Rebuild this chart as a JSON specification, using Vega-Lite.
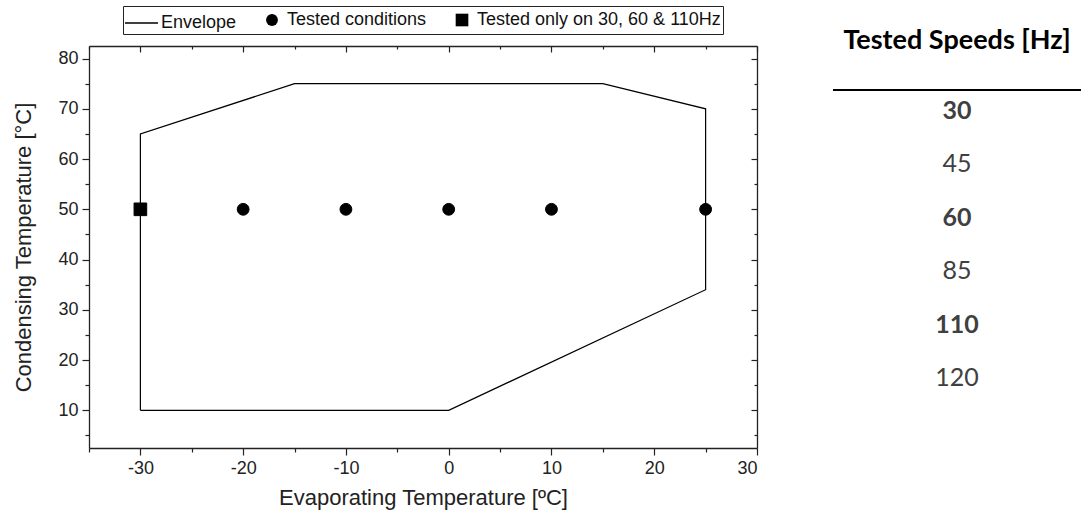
{
  "$schema": "https://vega.github.io/schema/vega-lite/v6.json",
  "padding": {"left": 12, "top": 5, "right": 0, "bottom": 8},
  "bounds": "flush",
  "spacing": 76,
  "config": {"view": {"stroke": null}, "font": "Liberation Sans"},
  "hconcat": [
    {
      "width": 668,
      "height": 402,
      "layer": [
        {
          "data": {"values": [
            {"evap": -30, "cond": 10, "order": 1},
            {"evap": -30, "cond": 65, "order": 2},
            {"evap": -15, "cond": 75, "order": 3},
            {"evap": 15, "cond": 75, "order": 4},
            {"evap": 25, "cond": 70, "order": 5},
            {"evap": 25, "cond": 34, "order": 6},
            {"evap": 0, "cond": 10, "order": 7},
            {"evap": -30, "cond": 10, "order": 8}
          ]},
          "mark": {"type": "line", "color": "black", "strokeWidth": 1.2},
          "encoding": {
            "x": {"field": "evap", "type": "quantitative",
              "scale": {"domain": [-35, 30], "nice": false, "zero": false},
              "axis": {"orient": "bottom", "title": "Evaporating Temperature [ºC]",
                "values": [-35, -30, -25, -20, -15, -10, -5, 0, 5, 10, 15, 20, 25, 30],
                "labelExpr": "datum.value % 10 === 0 ? (datum.value < 0 ? '-' : '') + abs(datum.value) : ''",
                "grid": false, "domainColor": "#222", "domainWidth": 1.3,
                "tickColor": "#222", "tickWidth": 1.2,
                "tickSize": {"condition": {"test": "datum.value % 10 === 0", "value": 7}, "value": 4},
                "labelPadding": 4, "labelFontSize": 18, "labelColor": "#222", "labelFont": "Liberation Sans",
                "titleFontSize": 22, "titleFontWeight": "normal", "titleColor": "#222", "titlePadding": 10, "titleFont": "Liberation Sans"}},
            "y": {"field": "cond", "type": "quantitative",
              "scale": {"domain": [2.5, 82.5], "nice": false, "zero": false},
              "axis": {"orient": "left", "title": "Condensing Temperature [°C]",
                "values": [5, 10, 15, 20, 25, 30, 35, 40, 45, 50, 55, 60, 65, 70, 75, 80],
                "labelExpr": "datum.value % 10 === 0 ? datum.label : ''",
                "grid": false, "domainColor": "#222", "domainWidth": 1.3,
                "tickColor": "#222", "tickWidth": 1.2,
                "tickSize": {"condition": {"test": "datum.value % 10 === 0", "value": 7}, "value": 4},
                "labelPadding": 4, "labelFontSize": 18, "labelColor": "#222", "labelFont": "Liberation Sans",
                "titleFontSize": 22, "titleFontWeight": "normal", "titleColor": "#222", "titlePadding": 22, "titleFont": "Liberation Sans"}},
            "order": {"field": "order", "type": "quantitative"}
          }
        },
        {
          "data": {"values": [
            {"evap": -30, "cond": 50, "type": "Tested only on 30, 60 & 110Hz"},
            {"evap": -20, "cond": 50, "type": "Tested conditions"},
            {"evap": -10, "cond": 50, "type": "Tested conditions"},
            {"evap": 0, "cond": 50, "type": "Tested conditions"},
            {"evap": 10, "cond": 50, "type": "Tested conditions"},
            {"evap": 25, "cond": 50, "type": "Tested conditions"}
          ]},
          "mark": {"type": "point", "filled": true, "color": "black", "opacity": 1, "stroke": "black", "strokeWidth": 1},
          "encoding": {
            "x": {"field": "evap", "type": "quantitative",
              "axis": {"orient": "top", "title": null, "labels": false,
                "values": [-35, -30, -25, -20, -15, -10, -5, 0, 5, 10, 15, 20, 25, 30],
                "grid": false, "domainColor": "#222", "domainWidth": 1.3,
                "tickColor": "#222", "tickWidth": 1.2,
                "tickSize": {"condition": {"test": "datum.value % 10 === 0", "value": -6}, "value": -3}}},
            "y": {"field": "cond", "type": "quantitative",
              "axis": {"orient": "right", "title": null, "labels": false,
                "values": [5, 10, 15, 20, 25, 30, 35, 40, 45, 50, 55, 60, 65, 70, 75, 80],
                "grid": false, "domainColor": "#222", "domainWidth": 1.3,
                "tickColor": "#222", "tickWidth": 1.2,
                "tickSize": {"condition": {"test": "datum.value % 10 === 0", "value": -6}, "value": -3}}},
            "shape": {"field": "type", "type": "nominal",
              "scale": {"type": "ordinal", "domain": ["Envelope", "Tested conditions", "Tested only on 30, 60 & 110Hz"], "range": ["M-1,-0.05L1.2,-0.05L1.2,0.05L-1,0.05Z", "circle", "square"]},
              "legend": {"title": null, "orient": "none", "legendX": 34, "legendY": -40, "direction": "horizontal",
                "strokeColor": "#222", "padding": 2, "columnPadding": 26, "labelFontSize": 18, "labelFont": "Liberation Sans", "labelLimit": 400,
                "labelColor": "#111", "symbolStrokeColor": "black", "symbolFillColor": "black", "symbolStrokeWidth": 0, "labelOffset": 6}},
            "size": {"field": "type", "type": "nominal",
              "scale": {"type": "ordinal", "domain": ["Envelope", "Tested conditions", "Tested only on 30, 60 & 110Hz"], "range": [900, 140, 160]},
              "legend": {"title": null, "orient": "none", "legendX": 34, "legendY": -40, "direction": "horizontal",
                "strokeColor": "#222", "padding": 2, "columnPadding": 26, "labelFontSize": 18, "labelFont": "Liberation Sans", "labelLimit": 400,
                "labelColor": "#111", "symbolStrokeColor": "black", "symbolFillColor": "black", "symbolStrokeWidth": 0, "labelOffset": 6}}
          }
        }
      ],
      "resolve": {"axis": {"x": "independent", "y": "independent"}}
    },
    {
      "width": 248,
      "height": 402,
      "data": {"values": [
        {"label": "Tested Speeds [Hz]", "row": -0.311, "kind": "title"},
        {"label": "", "row": 0.607, "kind": "rule"},
        {"label": "30", "row": 1, "kind": "bold"},
        {"label": "45", "row": 2, "kind": "plain"},
        {"label": "60", "row": 3, "kind": "bold"},
        {"label": "85", "row": 4, "kind": "plain"},
        {"label": "110", "row": 5, "kind": "bold"},
        {"label": "120", "row": 6, "kind": "plain"}
      ]},
      "encoding": {
        "y": {"field": "row", "type": "quantitative", "scale": {"domain": [-0.217, 7.311], "reverse": true, "nice": false, "zero": false}, "axis": null}
      },
      "layer": [
        {
          "transform": [{"filter": "datum.kind === 'title'"}],
          "mark": {"type": "text", "font": "Lato", "fontSize": 27, "fontWeight": "bold", "color": "black", "baseline": "middle"},
          "encoding": {"x": {"datum": 0.5, "type": "quantitative", "scale": {"domain": [0, 1]}, "axis": null}, "text": {"field": "label"}}
        },
        {
          "transform": [{"filter": "datum.kind === 'bold'"}],
          "mark": {"type": "text", "font": "Lato", "fontSize": 25, "fontWeight": "bold", "color": "#404040", "baseline": "middle"},
          "encoding": {"x": {"datum": 0.5, "type": "quantitative"}, "text": {"field": "label"}}
        },
        {
          "transform": [{"filter": "datum.kind === 'plain'"}],
          "mark": {"type": "text", "font": "Lato", "fontSize": 25, "color": "#404040", "baseline": "middle"},
          "encoding": {"x": {"datum": 0.5, "type": "quantitative"}, "text": {"field": "label"}}
        },
        {
          "transform": [{"filter": "datum.kind === 'rule'"}],
          "mark": {"type": "rule", "color": "black", "strokeWidth": 2},
          "encoding": {}
        }
      ]
    }
  ]
}
